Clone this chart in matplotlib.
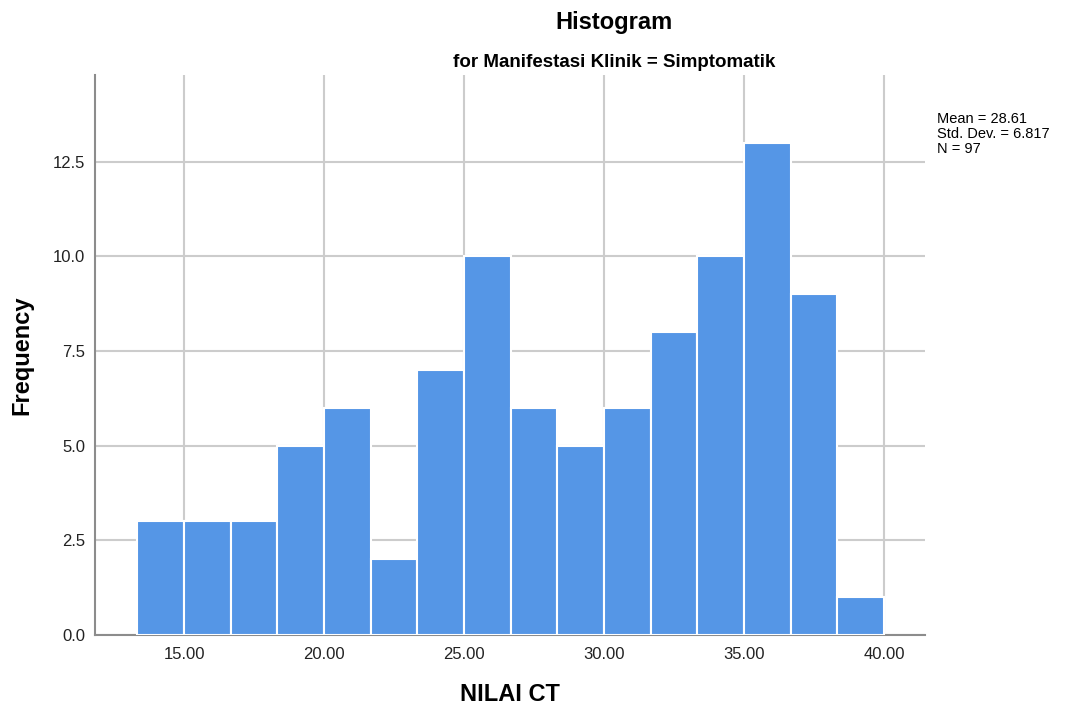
import numpy as np
import matplotlib
matplotlib.use("Agg")
import matplotlib.pyplot as plt

plt.rcParams['font.family'] = ['Liberation Sans', 'DejaVu Sans']

# Data
counts = [3, 3, 3, 5, 6, 2, 7, 10, 6, 5, 6, 8, 10, 13, 9, 1]
bin_start = 13.333
bin_width = 1.6667
x_ticks = [15, 20, 25, 30, 35, 40]
x_tick_labels = ["15.00", "20.00", "25.00", "30.00", "35.00", "40.00"]
y_ticks = [0.0, 2.5, 5.0, 7.5, 10.0, 12.5]
y_tick_labels = ["0.0", "2.5", "5.0", "7.5", "10.0", "12.5"]
stats_text = "Mean = 28.61\nStd. Dev. = 6.817\nN = 97"

edges = bin_start + bin_width * np.arange(len(counts) + 1)

fig = plt.figure(figsize=(10.68, 7.11), dpi=100)
ax = fig.add_axes([0.089, 0.107, 0.777, 0.788])

ax.bar(edges[:-1], counts, width=bin_width, align='edge',
       color='#5596E6', edgecolor='white', linewidth=1.5, zorder=3)

ax.set_xlim(11.82, 41.46)
ax.set_ylim(0, 14.8)
ax.set_xticks(x_ticks)
ax.set_xticklabels(x_tick_labels, fontsize=12)
ax.set_yticks(y_ticks)
ax.set_yticklabels(y_tick_labels, fontsize=12)
ax.tick_params(length=0, colors='#222222')
ax.tick_params(axis='x', pad=9)
ax.tick_params(axis='y', pad=7)

ax.grid(True, color='#cccccc', linewidth=1.5, zorder=0)
ax.set_axisbelow(True)
for s in ['top', 'right']:
    ax.spines[s].set_visible(False)
for s in ['left', 'bottom']:
    ax.spines[s].set_color('#8c8c8c')
    ax.spines[s].set_linewidth(1.5)

ax.set_xlabel("NILAI CT", fontsize=17, fontweight='bold', labelpad=15)
ax.set_ylabel("Frequency", fontsize=17, fontweight='bold', labelpad=14)

fig.text(0.575, 0.969, "Histogram", fontsize=17, fontweight='bold',
         ha='center', va='center')
fig.text(0.575, 0.912, "for Manifestasi Klinik = Simptomatik", fontsize=13.5,
         fontweight='bold', ha='center', va='center')
fig.text(0.877, 0.843, stats_text, fontsize=10.5, ha='left', va='top',
         linespacing=1.12)

fig.savefig("out.png", dpi=100)
